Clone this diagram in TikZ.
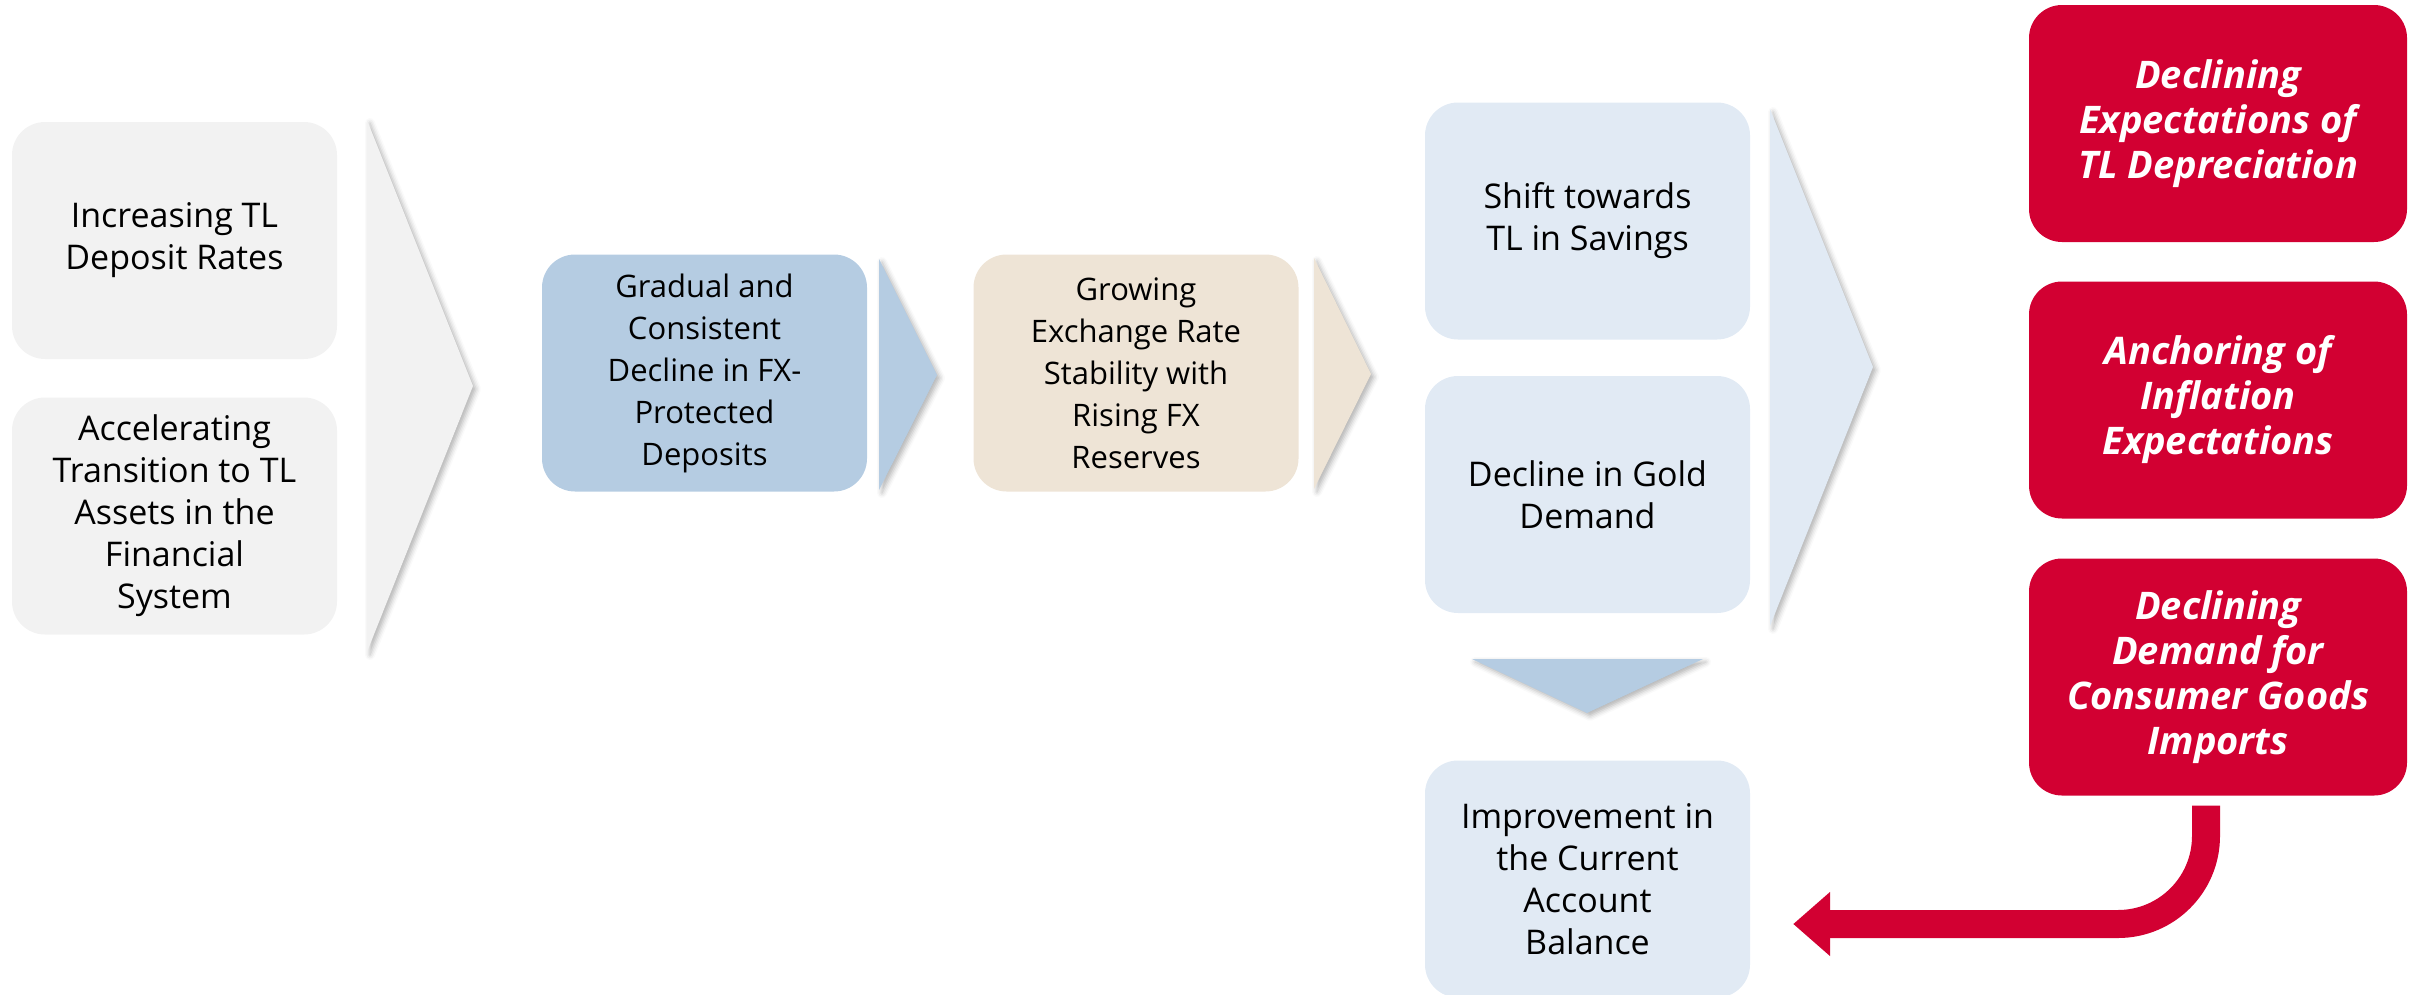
\documentclass[tikz,border=0pt]{standalone}
\usepackage[]{fontspec}
\usepackage[]{tikz}
\setmainfont{Open Sans}
\usetikzlibrary{arrows.meta}
\usetikzlibrary{shadows.blur}
\definecolor{boxgray}{HTML}{F2F2F2}
\definecolor{boxblue}{HTML}{B5CCE2}
\definecolor{boxbeige}{HTML}{EEE4D6}
\definecolor{boxlight}{HTML}{E1EAF4}
\definecolor{boxred}{HTML}{D20032}
\tikzset{box/.style = {rectangle, rounded corners = 33pt, minimum width = 325pt, minimum height = 237pt, inner sep = 0, align = center, font = \fontsize{34}{42}\selectfont}}
\tikzset{midbox/.style = {box, font = \fontsize{31}{42}\selectfont}}
\tikzset{redbox/.style = {box, fill = boxred, text = white, minimum width = 378pt, font = \fontsize{38}{45}\selectfont\bfseries\itshape}}
\tikzset{chev/.style = {blur shadow = {shadow xshift = 3pt, shadow yshift = -3pt, shadow blur radius = 5pt, shadow opacity = 30}}}

\begin{document}
\begin{tikzpicture}[x=1pt, y=-1pt]
            \useasboundingbox (0,0) rectangle (2417,994);
            \node [box, fill=boxgray] (incr) at (174.5,240.5) {Increasing TL\\Deposit Rates};
            \node [box, fill=boxgray] (accel) at (174.5,516) {Accelerating\\Transition to TL\\Assets in the\\Financial\\System};
            \fill [boxgray, chev] (367,120)--(473,386)--(367,652)--cycle;
            \node [midbox, fill=boxblue] (gradual) at (704.5,373) {Gradual and\\Consistent\\Decline in FX-\\Protected\\Deposits};
            \fill [boxblue, chev] (879,259)--(937,375)--(879,490)--cycle;
            \node [midbox, fill=boxbeige] (growing) at (1136,373) {Growing\\Exchange Rate\\Stability with\\Rising FX\\Reserves};
            \fill [boxbeige, chev] (1314,258)--(1371,374)--(1314,489)--cycle;
            \node [box, fill=boxlight] (shift) at (1587.5,221) {Shift towards\\TL in Savings};
            \node [box, fill=boxlight] (gold) at (1587.5,494.5) {Decline in Gold\\Demand};
            \fill [boxlight, chev] (1770,109)--(1873,367)--(1770,626)--cycle;
            \fill [boxblue, chev] (1472,659)--(1703,659)--(1587,713)--cycle;
            \node [box, fill=boxlight] (improve) at (1587.5,879) {Improvement in\\the Current\\Account\\Balance};
            \node [redbox] (tldep) at (2218,123.5) {Declining\\Expectations of\\TL Depreciation};
            \node [redbox] (anchor) at (2218,400) {Anchoring of\\Inflation\\Expectations};
            \node [redbox] (imports) at (2218,677) {Declining\\Demand for\\Consumer Goods\\Imports};
            \draw [boxred, line width=28pt, rounded corners=88pt, -{Triangle[length=37pt, width=62pt]}] ([xshift=-12pt, yshift=-10pt]imports.south) |- ([xshift=43pt, yshift=-45pt]improve.east);
        \end{tikzpicture}
\end{document}
